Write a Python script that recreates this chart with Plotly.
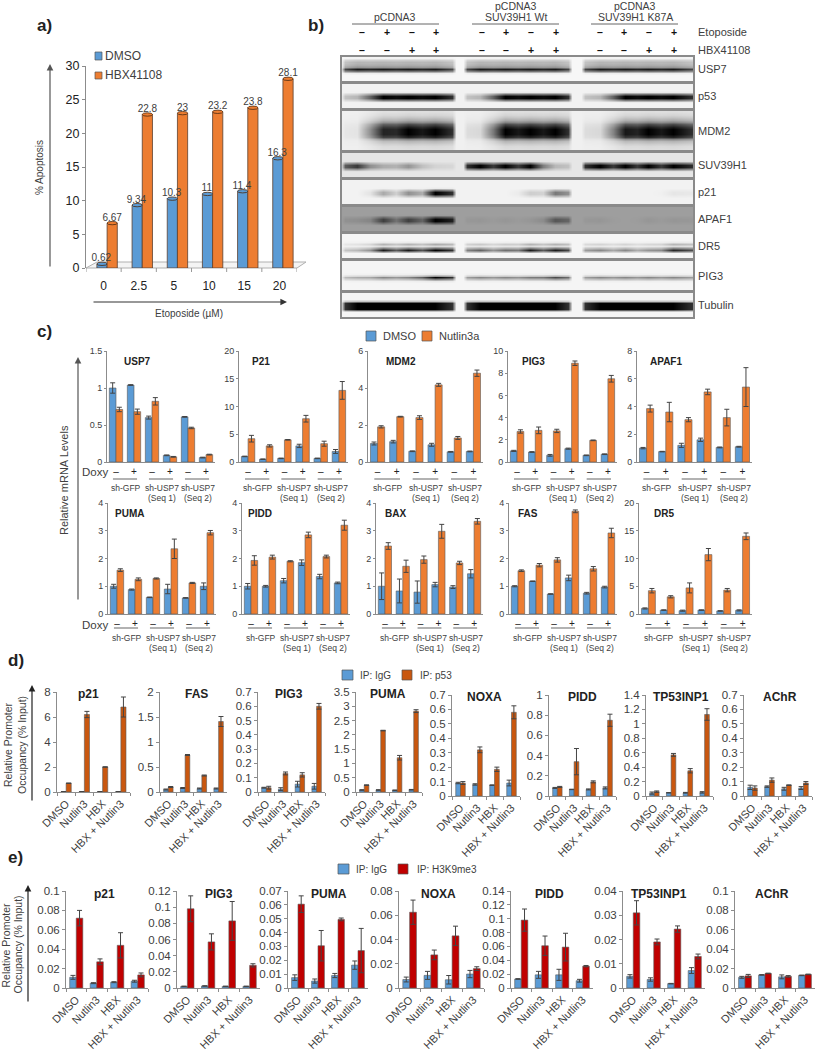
import plotly.graph_objects as go

W, H = 817, 1050
FONT = "Liberation Sans"
TXT = "#404040"
AX = "#8c8c8c"

# ---------- panel a ----------
a_doses = ["0", "2.5", "5", "10", "15", "20"]
a_dmso = [0.62, 9.34, 10.3, 11, 11.4, 16.3]
a_hbx = [6.67, 22.8, 23, 23.2, 23.8, 28.1]

# ---------- panel b (band intensities read lane by lane) ----------
b_names = ["USP7", "p53", "MDM2", "SUV39H1", "p21", "APAF1", "DR5", "PIG3", "Tubulin"]
b_usp7 = [.9, .9, .9, .9, .9, .9, .9, .9, .9, .9, .9, .9]
b_p53 = [.25, 1, 1, 1, .25, 1, 1, 1, .25, 1, 1, 1]
b_mdm2 = [.05, .85, 1, 1, .1, 1, 1, 1, .1, .9, 1, 1]
b_suv = [.75, .25, .35, .08, 1, 1, 1, .2, 1, 1, 1, 1]
b_p21 = [0, .3, .4, 1, 0, 0, .15, .5, 0, 0, 0, .05]
b_apaf1 = [.1, .6, .6, 1, .05, .05, .05, .45, .05, 0, .05, .05]
b_dr5 = [.25, .9, .9, 1, .6, .55, .9, .9, .45, .45, .4, .85]
b_pig3 = [.3, .45, .45, 1, .45, .45, .5, .7, .45, .45, .45, .45]
b_tub = [1, 1, 1, 1, 1, 1, 1, 1, 1, 1, 1, 1]
p_usp7 = [.02, .2, .3, .3, .35, .45, 1, .6, .05, 0, 0, 0, 0]
p_single = [0, 0, 0, 0, .03, .55, 1, 1, .5, .03, 0, 0, 0]
p_mdm2 = [.08, .12, .18, .3, .45, .7, .9, 1, 1, 1, .85, .45, .25, .15, .1, .08]
p_dr5 = [0, 0, 0, 0, .05, .3, .12, .55, 1, .35, 0, 0, 0]
p_pig3 = [0, 0, 0, 0, 0, 0, .05, .4, 1, .5, .05, 0, 0, 0, 0]
p_tub = [0, 0, 0, 0, .2, 1, 1, 1, 1, .2, 0, 0, 0]
b_bg = [.03, .05, .06, .1, .05, .38, .04, .04, .04]
b_gap = [.95, .95, .9, .75, .4, .45, .7, .85, 1]

# ---------- panel c ----------
c_usp7_d = [1, 1.04, .6, .09, .61, .06]; c_usp7_de = [.07, .005, .02, .005, .005, .005]
c_usp7_n = [.71, .68, .82, .07, .46, .1]; c_usp7_ne = [.03, .035, .05, .005, .01, .005]
c_p21_d = [1, .5, .65, 2.9, .65, 1.9]; c_p21_de = [.05, .05, .05, .3, .05, .35]
c_p21_n = [4.2, 2.9, 4, 7.8, 3.3, 12.9]; c_p21_ne = [.6, .2, .05, .6, .45, 1.6]
c_mdm2_d = [1, 1.1, .58, .93, .55, .57]; c_mdm2_de = [.08, .07, .02, .08, .02, .02]
c_mdm2_n = [1.9, 2.45, 2.4, 4.17, 1.3, 4.8]; c_mdm2_ne = [.06, .02, .1, .08, .08, .17]
c_pig3_d = [1, .9, .6, 1.2, .6, .7]; c_pig3_de = [.05, .03, .08, .05, .03, .03]
c_pig3_n = [2.75, 2.85, 2.8, 8.9, 1.95, 7.5]; c_pig3_ne = [.15, .3, .15, .2, .03, .3]
c_apaf1_d = [1, .75, 1.2, 1.6, 1.05, 1.1]; c_apaf1_de = [.05, .02, .15, .12, .03, .03]
c_apaf1_n = [3.85, 3.6, 3.05, 5.05, 3.2, 5.4]; c_apaf1_ne = [.25, .7, .15, .2, .6, 1.4]
c_puma_d = [1, .88, .6, .9, .58, 1]; c_puma_de = [.07, .02, .01, .17, .01, .12]
c_puma_n = [1.58, 1.25, 1.28, 2.35, 1.12, 2.93]; c_puma_ne = [.05, .05, .02, .35, .02, .08]
c_pidd_d = [1, 1, 1.2, 1.85, 1.35, 1.12]; c_pidd_de = [.1, .03, .08, .1, .08, .03]
c_pidd_n = [1.93, 2.05, 1.9, 2.85, 2.07, 3.2]; c_pidd_ne = [.17, .07, .02, .1, .05, .18]
c_bax_d = [1, .83, .79, 1.06, .97, 1.45]; c_bax_de = [.48, .43, .4, .08, .05, .15]
c_bax_n = [2.45, 1.72, 1.96, 2.98, 1.84, 3.34]; c_bax_ne = [.12, .22, .13, .25, .06, .1]
c_fas_d = [1, 1.18, .72, 1.3, .75, .97]; c_fas_de = [.02, .01, .01, .1, .03, .03]
c_fas_n = [1.56, 1.76, 1.95, 3.7, 1.63, 2.92]; c_fas_ne = [.03, .06, .08, .05, .08, .17]
c_dr5_d = [1, .7, .6, .7, .55, .65]; c_dr5_de = [.1, .05, .1, .05, .05, .1]
c_dr5_n = [4.2, 3.1, 4.7, 10.7, 4.3, 14]; c_dr5_ne = [.4, .2, .9, 1.1, .3, .6]
c_signs = ["–", "+", "–", "+", "–", "+"]

# ---------- panel d ----------
treatments = ["DMSO", "Nutlin3", "HBX", "HBX + Nutlin3"]
d_p21_g = [.03, .03, .03, .03]; d_p21_ge = [0, 0, 0, 0]
d_p21_p = [.7, 6.2, 2, 6.8]; d_p21_pe = [.02, .25, .02, .8]
d_fas_g = [.05, .08, .07, .07]; d_fas_ge = [.01, .01, .01, .01]
d_fas_p = [.1, .74, .33, 1.41]; d_fas_pe = [.01, .01, .01, .1]
d_pig3_g = [.03, .02, .055, .04]; d_pig3_ge = [.003, .01, .02, .02]
d_pig3_p = [.03, .13, .12, .6]; d_pig3_pe = [.01, .01, .015, .02]
d_puma_g = [.07, .07, .06, .08]; d_puma_ge = [.01, .01, .01, .01]
d_puma_p = [.24, 2.15, 1.2, 2.83]; d_puma_pe = [.01, .01, .08, .05]
d_noxa_g = [.09, .08, .075, .09]; d_noxa_ge = [.005, .005, .002, .02]
d_noxa_p = [.09, .32, .185, .58]; d_noxa_pe = [.01, .02, .015, .045]
d_pidd_g = [.08, .065, .065, .08]; d_pidd_ge = [.005, .002, .005, .01]
d_pidd_p = [.09, .34, .14, .75]; d_pidd_pe = [.005, .13, .01, .06]
d_tp53_g = [.04, .045, .045, .05]; d_tp53_ge = [.015, .002, .005, .01]
d_tp53_p = [.06, .57, .35, 1.13]; d_tp53_pe = [.01, .02, .03, .08]
d_achr_g = [.06, .065, .05, .055]; d_achr_ge = [.015, .005, .01, .01]
d_achr_p = [.055, .11, .075, .09]; d_achr_pe = [.015, .015, .002, .01]

# ---------- panel e ----------
e_p21_g = [.011, .005, .006, .007]; e_p21_ge = [.002, .0005, .0005, .001]
e_p21_h = [.072, .027, .044, .0135]; e_p21_he = [.008, .003, .013, .002]
e_pig3_g = [.002, .0025, .002, .002]; e_pig3_ge = [.0003, .0003, .0003, .0003]
e_pig3_h = [.098, .057, .083, .028]; e_pig3_he = [.016, .01, .024, .002]
e_puma_g = [.0075, .005, .009, .0165]; e_puma_ge = [.002, .0015, .0015, .003]
e_puma_h = [.0605, .0305, .0495, .027]; e_puma_he = [.006, .011, .001, .016]
e_noxa_g = [.007, .0104, .0068, .0115]; e_noxa_ge = [.002, .0033, .0035, .003]
e_noxa_h = [.0625, .0273, .043, .016]; e_noxa_he = [.01, .004, .008, .0015]
e_pidd_g = [.013, .019, .019, .0105]; e_pidd_ge = [.0005, .005, .008, .002]
e_pidd_h = [.098, .061, .059, .0315]; e_pidd_he = [.016, .014, .02, .001]
e_tp53_g = [.0048, .0035, .0018, .0072]; e_tp53_ge = [.0007, .0007, .0001, .0012]
e_tp53_h = [.031, .019, .0243, .013]; e_tp53_he = [.005, .0012, .0013, .001]
e_achr_g = [.011, .0135, .0115, .013]; e_achr_ge = [.001, .0003, .002, .0003]
e_achr_h = [.0125, .015, .012, .014]; e_achr_he = [.0015, .0003, .0008, .0003]

BLUE, ORANGE, DORANGE, RED = "#5b9bd5", "#ed7d31", "#c9570f", "#c00000"

fig = go.Figure()
layout = {}
annots, shapes = [], []
_n = [0]


def fx(x):
    return x / W


def fy(y):
    return 1 - y / H


def axes(l, r, t, b, xo, yo):
    _n[0] += 1
    n = _n[0]
    base = dict(showgrid=False, zeroline=False, fixedrange=True, automargin=False)
    layout[f"xaxis{n}"] = dict(domain=[fx(l), fx(r)], anchor=f"y{n}", **base, **xo)
    layout[f"yaxis{n}"] = dict(domain=[fy(b), fy(t)], anchor=f"x{n}", **base, **yo)
    return f"x{n}", f"y{n}"


def text(x, y, s, size=10, color=TXT, bold=False, anchor="center", angle=0, xref="paper"):
    annots.append(dict(
        x=x if xref != "paper" else fx(x), y=fy(y), xref=xref, yref="paper",
        text=f"<b>{s}</b>" if bold else s, showarrow=False, xanchor=anchor, yanchor="middle",
        textangle=angle, font=dict(family=FONT, size=size, color=color), borderpad=0, borderwidth=0))


def arrow(x0, y0, x1, y1, color="#555555"):
    annots.append(dict(x=fx(x1), y=fy(y1), ax=x0 - x1, ay=y0 - y1, xref="paper", yref="paper",
                       axref="pixel", ayref="pixel", text="", showarrow=True, arrowhead=2,
                       arrowsize=1.1, arrowwidth=1.2, arrowcolor=color))


def square(x0, y0, x1, y1, color):
    shapes.append(dict(type="rect", xref="paper", yref="paper", x0=fx(x0), x1=fx(x1), y0=fy(y1), y1=fy(y0),
                       fillcolor=color, line=dict(color="#555555", width=.7)))


def line(x0, y0, x1, y1, color="#888888", width=1):
    shapes.append(dict(type="line", xref="paper", yref="paper", x0=fx(x0), x1=fx(x1), y0=fy(y0), y1=fy(y1),
                       line=dict(color=color, width=width)))


def bars(xa, ya, x, v1, e1, v2, e2, c1, c2, w):
    for v, e, c, off in ((v1, e1, c1, -w), (v2, e2, c2, 0)):
        fig.add_trace(go.Bar(
            x=x, y=v, width=w, offset=off, marker=dict(color=c, line=dict(color="#5a5a5a", width=.6)),
            error_y=dict(type="data", array=e, color="#444444", thickness=1, width=2.5),
            xaxis=xa, yaxis=ya, showlegend=False))


# ---- panel a ----
text(44, 25, "a)", 17, "#222222", True)
shapes.append(dict(type="path", xref="paper", yref="paper", layer="below",
                   path=f"M {fx(86)} {fy(268)} L {fx(297)} {fy(268)} L {fx(306)} {fy(262)} L {fx(97)} {fy(262)} Z",
                   fillcolor="#f4f4f4", line=dict(color="#b0b0b0", width=1)))
xa, ya = axes(86, 297, 66, 268,
              dict(range=[-0.6, 5.4], tickvals=[i - .1 for i in range(6)], ticktext=a_doses, ticks="outside",
                   ticklen=7, tickcolor="rgba(0,0,0,0)", showline=False,
                   tickfont=dict(family=FONT, size=12, color="#222222")),
              dict(range=[0, 30], dtick=5, ticks="outside", ticklen=3, tickcolor=AX, showline=True, linecolor=AX,
                   tickfont=dict(family=FONT, size=12.5, color="#222222")))
for vals, c, off in ((a_dmso, BLUE, -.29), (a_hbx, ORANGE, 0)):
    fig.add_trace(go.Bar(x=list(range(6)), y=vals, width=.29, offset=off,
                         marker=dict(color=c, line=dict(color="#5a4030", width=.8)),
                         xaxis=xa, yaxis=ya, showlegend=False))
    for i, v in enumerate(vals):
        shapes.append(dict(type="circle", xref=xa, yref=ya, x0=i + off, x1=i + off + .29, y0=v - .25, y1=v + .25,
                           fillcolor=c, line=dict(color="#4a2a10", width=.8)))
for vals, off in ((a_dmso, -.165), (a_hbx, .145)):
    fig.add_trace(go.Scatter(x=[i + off for i in range(6)], y=vals, mode="text", text=[str(v) for v in vals],
                             textposition="top center", cliponaxis=False,
                             textfont=dict(family=FONT, size=10, color=TXT),
                             xaxis=xa, yaxis=ya, showlegend=False))
for i in range(7):
    shapes.append(dict(type="line", xref=xa, yref="paper", x0=i - .6, x1=i - .6, y0=fy(268), y1=fy(272),
                       line=dict(color="#999999", width=1)))
arrow(50, 268, 50, 64)
arrow(92, 302, 287, 302, "#333333")
text(39, 168, "% Apoptosis", 10, TXT, angle=-90)
text(189, 313, "Etoposide (µM)", 10)
square(95, 52, 102, 60, BLUE)
square(95, 72, 102, 79, ORANGE)
text(105, 56, "DMSO", 12, anchor="left")
text(105, 75, "HBX41108", 12, anchor="left")

# ---- panel b ----
text(316, 25, "b)", 17, "#222222", True)
lane_px = [357, 383, 408, 435, 480, 505, 530, 555, 600, 625, 648, 673]
group_ends = [(345, 452), (467, 568), (585, 692)]
xs = []
for g, (s, e) in enumerate(group_ends):
    L = lane_px[g * 4:g * 4 + 4]
    xs += [s - 4, s, L[0], (L[0] + L[1]) / 2, L[1], (L[1] + L[2]) / 2, L[2], (L[2] + L[3]) / 2, L[3], e, e + 4]


def lane_row(v, gap):
    out = []
    for g in range(3):
        a = v[g * 4:g * 4 + 4]
        out += [0, a[0] * .8, a[0], (a[0] + a[1]) / 2 * gap, a[1], (a[1] + a[2]) / 2 * gap, a[2],
                (a[2] + a[3]) / 2 * gap, a[3], a[3] * .8, 0]
    return out


blots = [(57, 81, b_usp7, p_usp7), (84, 108, b_p53, p_single), (111, 150, b_mdm2, p_mdm2),
         (153, 177, b_suv, p_single), (180, 204, b_p21, p_single), (207, 231, b_apaf1, p_single),
         (234, 258, b_dr5, p_dr5), (261, 290, b_pig3, p_pig3), (293, 317, b_tub, p_tub)]
frame = dict(showline=True, mirror=True, linecolor="#8a8a8a", linewidth=1.5, showticklabels=False, ticks="")
for (t, b, lanes, prof), name, bg, gap in zip(blots, b_names, b_bg, b_gap):
    xa, ya = axes(342, 693, t, b, dict(range=[342, 693], **frame), dict(range=[0, 1], **frame))
    row = lane_row(lanes, gap)
    ny = len(prof)
    z = [[bg + (1 - bg) * p * v for v in row] for p in prof]
    fig.add_trace(go.Heatmap(x=xs, y=[1 - (i + .5) / ny for i in range(ny)], z=z, zmin=0, zmax=1, zsmooth="best",
                             colorscale=[[0, "#ffffff"], [1, "#000000"]], showscale=False,
                             xaxis=xa, yaxis=ya, hoverinfo="skip"))
    text(698, (t + b) / 2, name, 11, anchor="left")

text(395, 17, "pCDNA3", 10.5)
text(516, 6, "pCDNA3", 10.5)
text(516, 17, "SUV39H1 Wt", 10.5)
text(635, 6, "pCDNA3", 10.5)
text(635, 17, "SUV39H1 K87A", 10.5)
line(352, 24, 439, 24, "#666666")
line(472, 24, 559, 24, "#666666")
line(591, 24, 678, 24, "#666666")
eto = ["–", "+", "–", "+"] * 3
hbx = ["–", "–", "+", "+"] * 3
sign_px = [362, 387, 412, 436, 482, 506, 531, 556, 600, 624, 649, 674]
for xp, a, h in zip(sign_px, eto, hbx):
    text(xp, 31.5, a, 10.5, "#111111", True)
    text(xp, 49.5, h, 10.5, "#111111", True)
text(698, 32, "Etoposide", 11, anchor="left")
text(698, 50, "HBX41108", 11, anchor="left")

# ---- panel c ----
text(44, 332, "c)", 17, "#222222", True)
square(366, 331, 376, 341, BLUE)
text(383, 336, "DMSO", 11, anchor="left")
square(422, 331, 432, 341, ORANGE)
text(439, 336, "Nutlin3a", 11, anchor="left")
text(64, 480, "Relative mRNA Levels", 11, angle=-90)
arrow(78, 601, 78, 357)

c_panels = [
    ("USP7", 107, 215, 0, 1.5, .5, c_usp7_d, c_usp7_de, c_usp7_n, c_usp7_ne, 137),
    ("P21", 239, 348, 0, 20, 5, c_p21_d, c_p21_de, c_p21_n, c_p21_ne, 261),
    ("MDM2", 368, 483, 0, 6, 2, c_mdm2_d, c_mdm2_de, c_mdm2_n, c_mdm2_ne, 401),
    ("PIG3", 508, 617, 0, 10, 2, c_pig3_d, c_pig3_de, c_pig3_n, c_pig3_ne, 533),
    ("APAF1", 637, 752, 0, 8, 2, c_apaf1_d, c_apaf1_de, c_apaf1_n, c_apaf1_ne, 666),
    ("PUMA", 108, 216, 1, 4, 1, c_puma_d, c_puma_de, c_puma_n, c_puma_ne, 129),
    ("PIDD", 242, 350, 1, 4, 1, c_pidd_d, c_pidd_de, c_pidd_n, c_pidd_ne, 260),
    ("BAX", 376, 483, 1, 4, 1, c_bax_d, c_bax_de, c_bax_n, c_bax_ne, 395),
    ("FAS", 509, 617, 1, 4, 1, c_fas_d, c_fas_de, c_fas_n, c_fas_ne, 528),
    ("DR5", 639, 752, 1, 20, 5, c_dr5_d, c_dr5_de, c_dr5_n, c_dr5_ne, 664),
]
for name, l, r, row, ymax, dt, d, de, n, ne, tx in c_panels:
    t, b = (351, 462) if row == 0 else (503, 614)
    xa, ya = axes(l, r, t, b,
                  dict(range=[-.5, 5.5], tickvals=list(range(6)), ticktext=c_signs, ticks="",
                       showline=True, linecolor=AX,
                       tickfont=dict(family=FONT, size=10, color="#222222")),
                  dict(range=[0, ymax], dtick=dt, ticks="outside", ticklen=2, tickcolor=AX, showline=True,
                       linecolor=AX, tickfont=dict(family=FONT, size=9, color=TXT)))
    bars(xa, ya, list(range(6)), d, de, n, ne, BLUE, ORANGE, .37)
    text(tx, t + 10, name, 10, "#222222", True)
    ly, y1, y2 = (479, 488, 498) if row == 0 else (628, 638, 648)
    for g, lab in enumerate(["sh-GFP", "sh-USP7", "sh-USP7"]):
        shapes.append(dict(type="line", xref=xa, yref="paper", x0=g * 2 - .17, x1=g * 2 + 1.17, y0=fy(ly), y1=fy(ly),
                           line=dict(color="#999999", width=1.5)))
        text(g * 2 + .55, y1, lab, 8.5, xref=xa)
        if g:
            text(g * 2 + .55, y2, f"(Seq {g})", 8.5, xref=xa)
text(95, 472, "Doxy", 11.5, anchor="center")
text(95, 625, "Doxy", 11.5, anchor="center")

# ---- panel d ----
text(16, 660, "d)", 17, "#222222", True)
square(342, 670, 353, 680, BLUE)
text(360, 675, "IP: IgG", 10, anchor="left")
square(402, 670, 412, 680, DORANGE)
text(420, 675, "IP: p53", 10, anchor="left")
text(8, 745, "Relative Promoter", 10.5, angle=-90)
text(22, 745, "Occupancy (% Input)", 10.5, angle=-90)
arrow(32, 802, 32, 685, "#222222")


def chip_axes(l, r, t, b, ymax, dt):
    return axes(l, r, t, b,
                dict(type="category", categoryorder="array", categoryarray=treatments, range=[-.5, 3.5],
                     tickson="boundaries", ticks="outside", ticklen=3, tickcolor=AX, showline=True, linecolor=AX,
                     tickangle=-45, tickfont=dict(family=FONT, size=11, color=TXT)),
                dict(range=[0, ymax], dtick=dt, ticks="outside", ticklen=3, tickcolor=AX, showline=True, linecolor=AX,
                     tickfont=dict(family=FONT, size=11.5, color=TXT)))


d_panels = [
    ("p21", 57, 130, 0, 8, 2, d_p21_g, d_p21_ge, d_p21_p, d_p21_pe, 88),
    ("FAS", 160, 227, 0, 2, .5, d_fas_g, d_fas_ge, d_fas_p, d_fas_pe, 196),
    ("PIG3", 258, 325, 0, .7, .1, d_pig3_g, d_pig3_ge, d_pig3_p, d_pig3_pe, 289),
    ("PUMA", 356, 422, 0, 3.5, .5, d_puma_g, d_puma_ge, d_puma_p, d_puma_pe, 388),
    ("NOXA", 452, 520, 1, .7, .1, d_noxa_g, d_noxa_ge, d_noxa_p, d_noxa_pe, 484),
    ("PIDD", 549, 616, 1, 1, .2, d_pidd_g, d_pidd_ge, d_pidd_p, d_pidd_pe, 582),
    ("TP53INP1", 646, 713, 1, 1.4, .2, d_tp53_g, d_tp53_ge, d_tp53_p, d_tp53_pe, 681),
    ("AChR", 744, 812, 1, .7, .1, d_achr_g, d_achr_ge, d_achr_p, d_achr_pe, 780),
]
for name, l, r, row, ymax, dt, g, ge, p, pe, tx in d_panels:
    t, b = (692, 792) if row == 0 else (695, 796)
    xa, ya = chip_axes(l, r, t, b, ymax, dt)
    bars(xa, ya, treatments, g, ge, p, pe, BLUE, DORANGE, .28)
    text(tx, t + 2, name, 12, "#222222", True)

# ---- panel e ----
text(16, 857, "e)", 17, "#222222", True)
square(338, 864, 349, 874, BLUE)
text(356, 869, "IP: IgG", 10, anchor="left")
square(398, 864, 408, 874, RED)
text(417, 869, "IP: H3K9me3", 10, anchor="left")
text(5.5, 945, "Relative Promoter", 10.5, angle=-90)
text(17.5, 945, "Occupancy (% Input)", 10.5, angle=-90)
arrow(28, 1003, 28, 885, "#222222")

e_panels = [
    ("p21", 66, 148, .1, .02, e_p21_g, e_p21_ge, e_p21_h, e_p21_he, 104),
    ("PIG3", 177, 260, .12, .02, e_pig3_g, e_pig3_ge, e_pig3_h, e_pig3_he, 219),
    ("PUMA", 288, 368, .07, .01, e_puma_g, e_puma_ge, e_puma_h, e_puma_he, 329),
    ("NOXA", 399, 484, .08, .02, e_noxa_g, e_noxa_ge, e_noxa_h, e_noxa_he, 438),
    ("PIDD", 511, 593, .14, .02, e_pidd_g, e_pidd_ge, e_pidd_h, e_pidd_he, 549),
    ("TP53INP1", 623, 705, .04, .01, e_tp53_g, e_tp53_ge, e_tp53_h, e_tp53_he, 659),
    ("AChR", 735, 815, .1, .02, e_achr_g, e_achr_ge, e_achr_h, e_achr_he, 772),
]
for name, l, r, ymax, dt, g, ge, h, he, tx in e_panels:
    xa, ya = chip_axes(l, r, 891, 988, ymax, dt)
    bars(xa, ya, treatments, g, ge, h, he, BLUE, RED, .32)
    text(tx, 894, name, 12, "#222222", True)

fig.update_layout(
    width=W, height=H, autosize=False, margin=dict(l=0, r=0, t=0, b=0, pad=0),
    paper_bgcolor="white", plot_bgcolor="rgba(0,0,0,0)", barmode="overlay", showlegend=False,
    annotations=annots, shapes=shapes, font=dict(family=FONT), **layout)
fig.write_html("out.html", config=dict(displayModeBar=False),
               post_script="document.body.style.margin='0';document.documentElement.style.overflow='hidden';")
